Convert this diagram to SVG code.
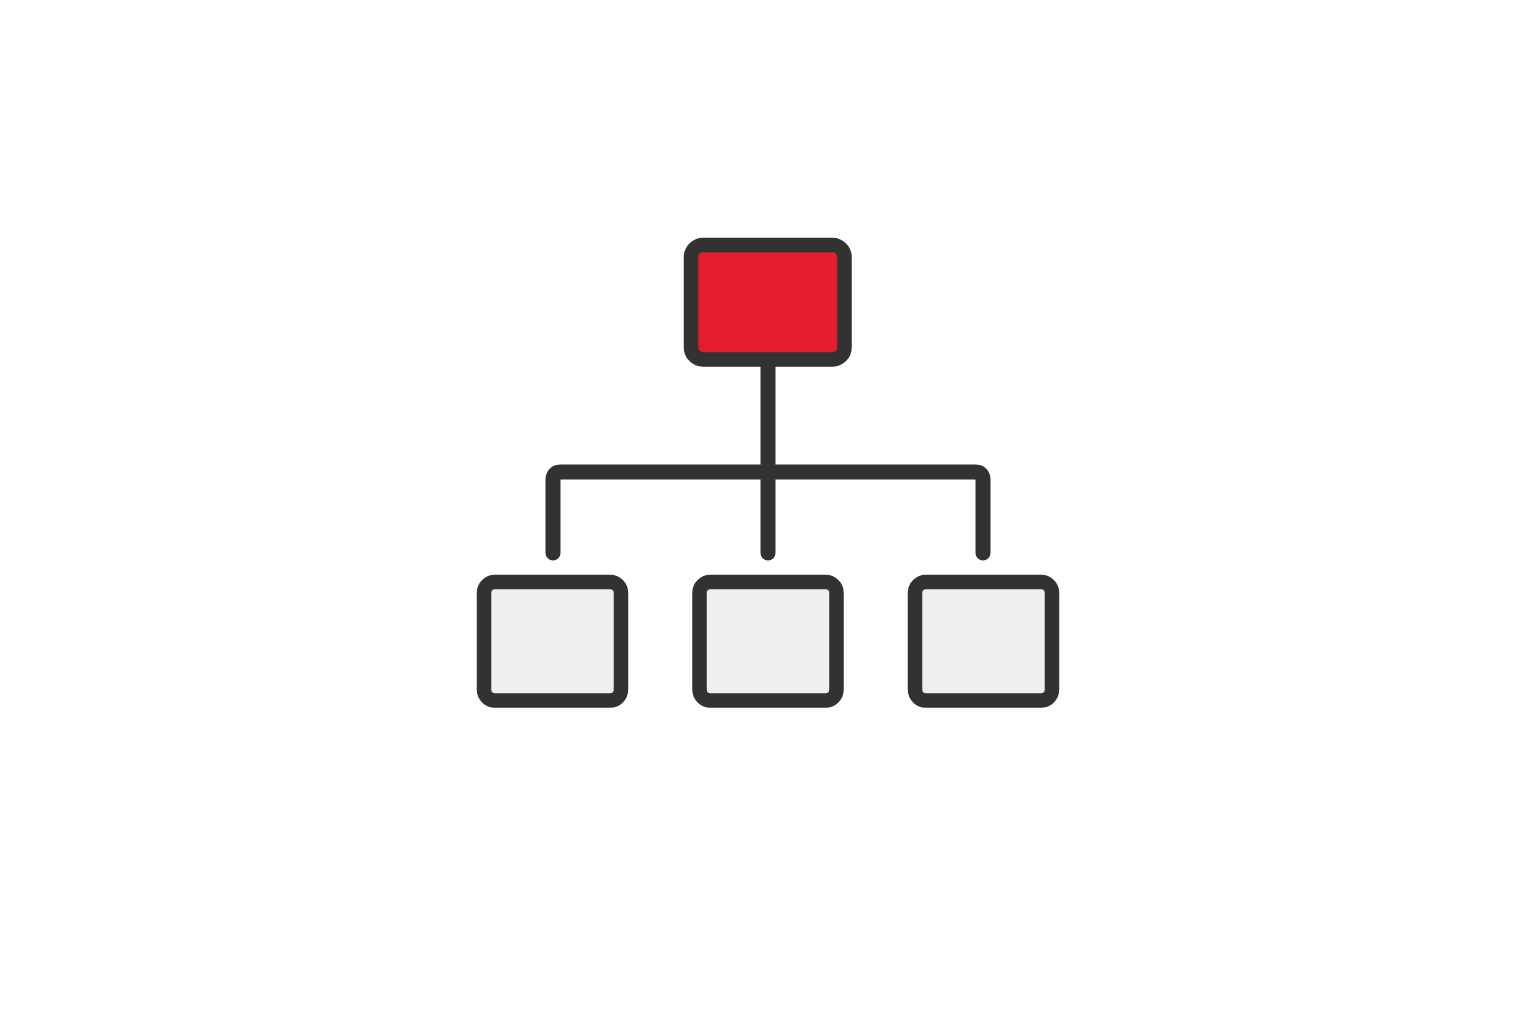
<svg xmlns="http://www.w3.org/2000/svg" width="1536" height="1024" viewBox="0 0 1536 1024">
<style>
.box{stroke:#323232;stroke-width:14.5;}
.root{fill:#e31c2e;}
.child{fill:#efefef;}
.conn{fill:none;stroke:#323232;stroke-width:15;stroke-linecap:round;stroke-linejoin:round;}
</style>
<rect width="1536" height="1024" fill="#ffffff"/>
<g id="connectors">
<path class="conn" d="M768 366 V553"/>
<path class="conn" d="M553 553 V480 Q553 472 561 472 H975 Q983 472 983 480 V553"/>
</g>
<g id="root">
<rect class="box root" x="691" y="245" width="153.5" height="114.5" rx="12"/>
</g>
<g id="child1">
<rect class="box child" x="484" y="582" width="137" height="118.5" rx="11"/>
</g>
<g id="child2">
<rect class="box child" x="699.5" y="582" width="137" height="118.5" rx="11"/>
</g>
<g id="child3">
<rect class="box child" x="915" y="582" width="137" height="118.5" rx="11"/>
</g>
</svg>
